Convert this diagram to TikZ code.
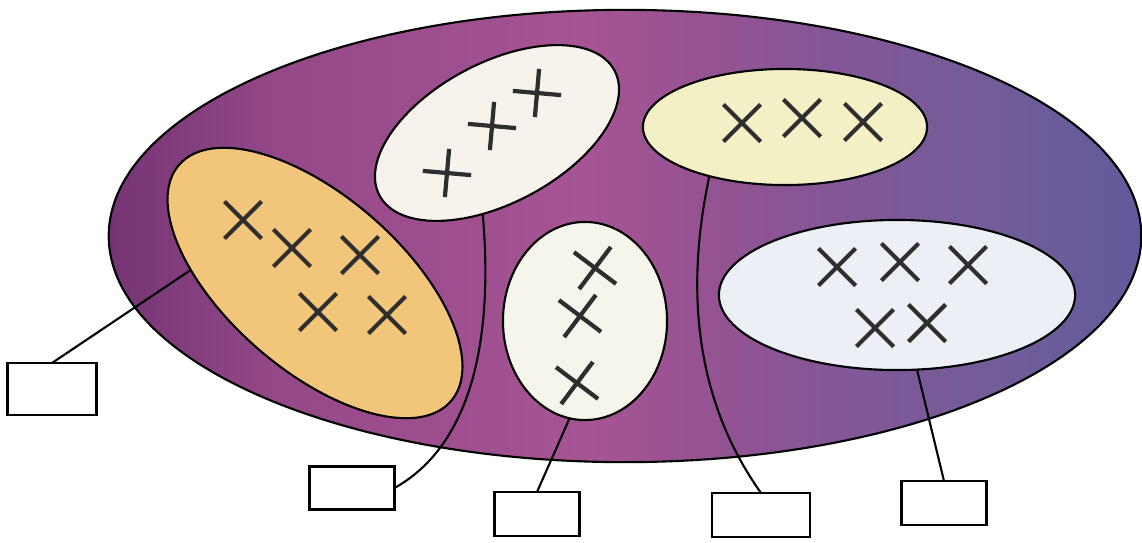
\documentclass[tikz,border=0pt]{standalone}
\usetikzlibrary{shapes.geometric,shapes.misc}
\definecolor{sA}{RGB}{116,52,116}
\definecolor{sB}{RGB}{148,72,136}
\definecolor{sC}{RGB}{166,84,148}
\definecolor{sD}{RGB}{152,82,146}
\definecolor{sE}{RGB}{132,86,150}
\definecolor{sF}{RGB}{114,92,154}
\definecolor{sG}{RGB}{98,90,156}
\pgfdeclarehorizontalshading{bigset}{100bp}{color(0bp)=(sA); color(25bp)=(sA); color(33bp)=(sB); color(48bp)=(sC); color(53bp)=(sD); color(60bp)=(sE); color(68bp)=(sF); color(75bp)=(sG); color(100bp)=(sG)}
\definecolor{orangeF}{RGB}{241,198,122}
\definecolor{whiteA}{RGB}{248,242,236}
\definecolor{yellowF}{RGB}{243,240,198}
\definecolor{whiteB}{RGB}{246,245,236}
\definecolor{blueF}{RGB}{237,239,247}
\tikzset{
  setshape/.style={ellipse, draw=black, line width=0.6pt, inner sep=0pt, outer sep=0pt},
  xmark/.style={cross out, draw=black!82, line width=1.2pt, minimum size=0.33cm, inner sep=0pt},
  pmark/.style={cross out, draw=black!82, line width=1.2pt, minimum size=0.30cm, inner sep=0pt, rotate=40},
  labelbox/.style={draw=black, line width=0.6pt, fill=white, inner sep=0pt, outer sep=0pt},
  conn/.style={draw=black, line width=0.6pt}
}
\begin{document}
\begin{tikzpicture}[x=0.01cm, y=-0.01cm]
\useasboundingbox (0,0) rectangle (1142,542);
% big set
\node[setshape, minimum width=10.32cm, minimum height=4.52cm, shading=bigset] (big) at (625,236) {};
% subsets
\node[setshape, fill=orangeF, minimum width=3.60cm, minimum height=1.74cm, rotate=-41] (orange) at (315,283) {};
\node[setshape, fill=whiteA, minimum width=2.66cm, minimum height=1.40cm, rotate=28] (topw) at (497,133) {};
\node[setshape, fill=yellowF, minimum width=2.84cm, minimum height=1.16cm] (yellow) at (785,127) {};
\node[setshape, fill=whiteB, minimum width=1.64cm, minimum height=1.98cm] (midw) at (585,321) {};
\node[setshape, fill=blueF, minimum width=3.56cm, minimum height=1.50cm] (bluew) at (897,295) {};
% crosses
\node[xmark] (o1) at (243,220) {};
\node[xmark] (o2) at (292,248) {};
\node[xmark] (o3) at (360,255) {};
\node[xmark] (o4) at (318,312) {};
\node[xmark] (o5) at (387,315) {};
\node[pmark] (t1) at (447,173) {};
\node[pmark] (t2) at (492,126) {};
\node[pmark] (t3) at (537,93) {};
\node[xmark] (y1) at (742,123) {};
\node[xmark] (y2) at (802,118) {};
\node[xmark] (y3) at (863,122) {};
\node[xmark, rotate=8] (m1) at (595,268) {};
\node[xmark, rotate=8] (m2) at (580,316) {};
\node[xmark, rotate=8] (m3) at (577,383) {};
\node[xmark] (b1) at (837,267) {};
\node[xmark] (b2) at (900,262) {};
\node[xmark] (b3) at (968,265) {};
\node[xmark] (b4) at (875,328) {};
\node[xmark] (b5) at (927,323) {};
% label boxes
\node[labelbox, minimum width=0.89cm, minimum height=0.52cm] (box1) at (52,389) {};
\node[labelbox, minimum width=0.85cm, minimum height=0.43cm] (box2) at (352,488) {};
\node[labelbox, minimum width=0.85cm, minimum height=0.44cm] (box3) at (537,514) {};
\node[labelbox, minimum width=0.98cm, minimum height=0.44cm] (box4) at (761,515) {};
\node[labelbox, minimum width=0.85cm, minimum height=0.44cm] (box5) at (944,503) {};
% connectors
\draw[conn] (orange.215) -- (box1.north);
\draw[conn] (topw.232) .. controls (492,320) and (480,440) .. (box2.east);
\draw[conn] (midw.261) -- (box3.north);
\draw[conn] (yellow.213) .. controls (685,290) and (695,400) .. (box4.north);
\draw[conn] (bluew.285) -- (box5.north);
\end{tikzpicture}
\end{document}
